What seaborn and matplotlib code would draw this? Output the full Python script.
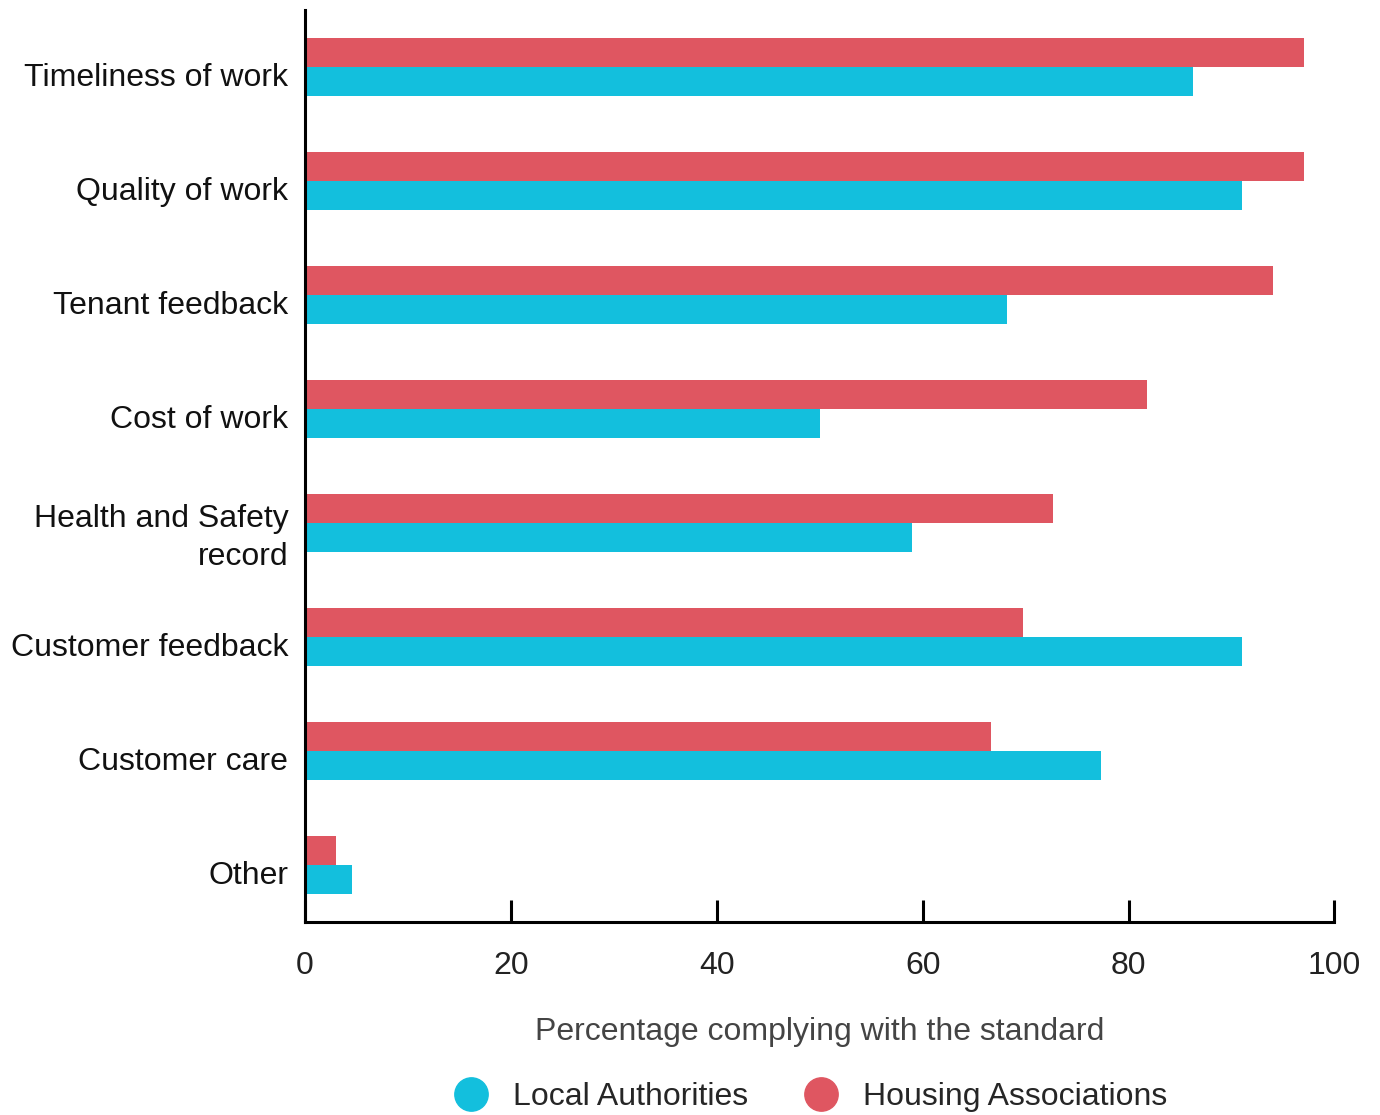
import pandas as pd
import matplotlib.pyplot as plt
import matplotlib.transforms as mtransforms
import seaborn as sns
from matplotlib.lines import Line2D

# --- Data ---
categories = ["Timeliness of work", "Quality of work", "Tenant feedback", "Cost of work",
              "Health and Safety\nrecord", "Customer feedback", "Customer care", "Other"]
housing_associations = [97.0, 97.0, 94.0, 81.8, 72.7, 69.7, 66.6, 3.0]
local_authorities = [86.3, 91.0, 68.2, 50.0, 59.0, 91.0, 77.3, 4.6]
x_ticks = [0, 20, 40, 60, 80, 100]

RED = "#DF5661"
CYAN = "#13BFDD"

sns.set_theme(style="white")
plt.rcParams['font.family'] = ['Liberation Sans', 'DejaVu Sans']

df = pd.DataFrame({
    "category": categories * 2,
    "value": housing_associations + local_authorities,
    "group": ["Housing Associations"] * len(categories) + ["Local Authorities"] * len(categories),
})

fig = plt.figure(figsize=(13.8, 11.15), dpi=100)
ax = fig.add_axes([0.221, 0.173, 0.746, 0.818])

sns.barplot(data=df, y="category", x="value", hue="group", orient="h",
            order=categories, hue_order=["Housing Associations", "Local Authorities"],
            palette=[RED, CYAN], width=0.51, saturation=1, gap=0, linewidth=0,
            legend=False, ax=ax)

ax.set_xlim(0, 100)
ax.set_ylim(7.5, -0.5)
ax.set_xticks(x_ticks)
ax.set_ylabel("")
ax.set_xlabel("Percentage complying with the standard", fontsize=23, color="#444444", labelpad=26)

for side in ["top", "right"]:
    ax.spines[side].set_visible(False)
for side in ["left", "bottom"]:
    ax.spines[side].set_color("black")
    ax.spines[side].set_linewidth(2.2)

ax.tick_params(axis="x", direction="in", length=16, width=2.2, color="black",
               labelsize=23, pad=21, labelcolor="#222222", bottom=True)
ax.tick_params(axis="y", length=0, labelsize=23, pad=12, labelcolor="#111111")

# labels in the reference sit a little below the bar pair centre
shift = mtransforms.ScaledTranslation(0, -7 / 100, fig.dpi_scale_trans)
for lab in ax.get_yticklabels():
    lab.set_horizontalalignment("right")
    lab.set_multialignment("right")
    lab.set_linespacing(1.35)
    lab.set_transform(lab.get_transform() + shift)

handles = [
    Line2D([], [], marker="o", linestyle="", markersize=24, color=CYAN, label="Local Authorities"),
    Line2D([], [], marker="o", linestyle="", markersize=24, color=RED, label="Housing Associations"),
]
fig.legend(handles=handles, loc="center", bbox_to_anchor=(0.582, 0.016), ncol=2,
           frameon=False, fontsize=23, handletextpad=0.3, columnspacing=1.3)

fig.savefig("out.png", dpi=100)
